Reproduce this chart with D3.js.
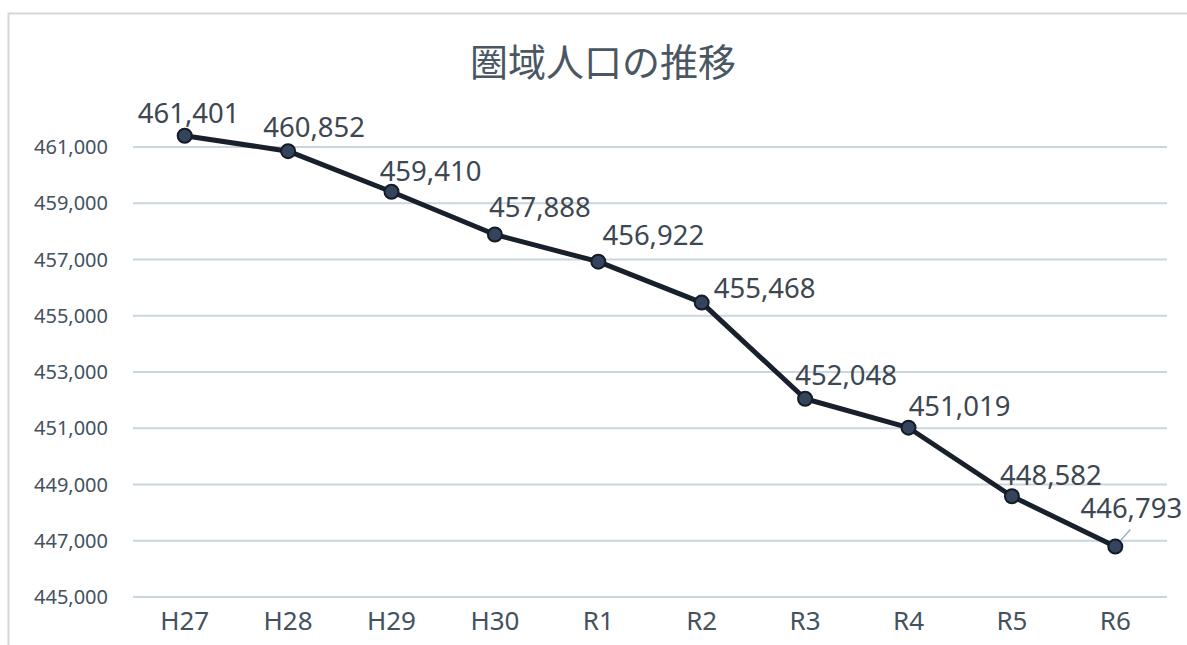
<!DOCTYPE html>
<html>
<head>
<meta charset="utf-8">
<script src="https://cdn.jsdelivr.net/npm/d3@7"></script>
<style>
  body { margin: 0; background: #fff; }
  text { font-family: "Noto Sans", "Noto Sans CJK JP", sans-serif; fill: #43525e; }
</style>
</head>
<body>
<script>
// data
var years = ["H27", "H28", "H29", "H30", "R1", "R2", "R3", "R4", "R5", "R6"];
var population = [461401, 460852, 459410, 457888, 456922, 455468, 452048, 451019, 448582, 446793];
var yTicks = [445000, 447000, 449000, 451000, 453000, 455000, 457000, 459000, 461000];

// label nudges (px) as placed in the original chart
var labelDx = [4, 26, 39, 45, 55, 63, 41, 51, 39, 16];
var labelDy = [-13, -14, -11, -18, -17, -5, -14, -12, -11, -29];

var w = 1187, h = 645;

var svg = d3.select("body").append("svg")
  .attr("width", w)
  .attr("height", h);

// chart frame
svg.append("rect")
  .attr("x", 8.5).attr("y", 13.5)
  .attr("width", 1300).attr("height", 800)
  .attr("fill", "none")
  .attr("stroke", "#d6d6d6")
  .attr("stroke-width", 2);

var x = d3.scaleBand()
  .domain(years)
  .range([133, 1167]);

var y = d3.scaleLinear()
  .domain([445000, 461000])
  .range([597, 147]);

// gridlines
svg.append("g").selectAll("line")
  .data(yTicks)
  .enter().append("line")
  .attr("x1", 133).attr("x2", 1167)
  .attr("y1", function(d) { return y(d); })
  .attr("y2", function(d) { return y(d); })
  .attr("stroke", "#c9d5df")
  .attr("stroke-width", 2);

// y axis labels
var fmt = d3.format(",");
svg.append("g").selectAll("text")
  .data(yTicks)
  .enter().append("text")
  .attr("x", 108)
  .attr("y", function(d) { return y(d); })
  .attr("dy", "0.35em")
  .attr("text-anchor", "end")
  .style("font-size", "20px")
  .text(function(d) { return fmt(d); });

// x axis labels
svg.append("g").selectAll("text")
  .data(years)
  .enter().append("text")
  .attr("x", function(d) { return x(d) + x.bandwidth() / 2; })
  .attr("y", 630)
  .attr("text-anchor", "middle")
  .style("font-size", "26px")
  .text(function(d) { return d; });

// title
svg.append("text")
  .attr("x", 603)
  .attr("y", 76)
  .attr("text-anchor", "middle")
  .style("font-family", "'Noto Sans CJK JP', sans-serif")
  .style("font-size", "38px")
  .style("fill", "#4a5762")
  .text("圏域人口の推移");

var cx = function(d, i) { return x(years[i]) + x.bandwidth() / 2; };
var cy = function(d) { return y(d); };

// leader line for last label
var last = population.length - 1;
svg.append("line")
  .attr("x1", cx(null, last)).attr("y1", cy(population[last]))
  .attr("x2", cx(null, last) + 15).attr("y2", cy(population[last]) - 17)
  .attr("stroke", "#9fb2c0")
  .attr("stroke-width", 1.5);

// line
var line = d3.line()
  .x(cx)
  .y(cy);

svg.append("path")
  .datum(population)
  .attr("d", line)
  .attr("fill", "none")
  .attr("stroke", "#18202c")
  .attr("stroke-width", 5)
  .attr("stroke-linejoin", "round");

// markers
svg.append("g").selectAll("circle")
  .data(population)
  .enter().append("circle")
  .attr("cx", cx)
  .attr("cy", cy)
  .attr("r", 7)
  .attr("fill", "#34445c")
  .attr("stroke", "#141c28")
  .attr("stroke-width", 2);

// data labels
svg.append("g").selectAll("text")
  .data(population)
  .enter().append("text")
  .attr("x", function(d, i) { return cx(d, i) + labelDx[i]; })
  .attr("y", function(d, i) { return cy(d) + labelDy[i]; })
  .attr("text-anchor", "middle")
  .style("font-size", "27.5px")
  .style("fill", "#3c4752")
  .text(function(d) { return fmt(d); });
</script>
</body>
</html>
